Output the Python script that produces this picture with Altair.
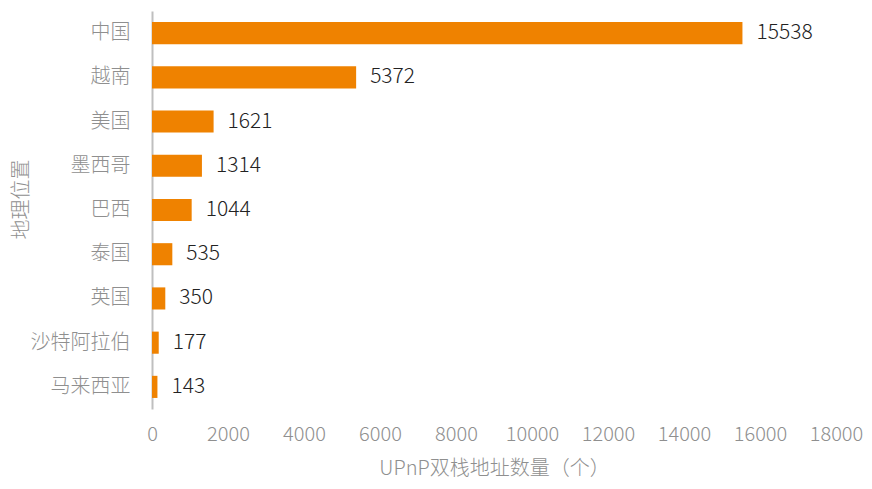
import altair as alt
import pandas as pd

countries = ["中国", "越南", "美国", "墨西哥", "巴西", "泰国", "英国", "沙特阿拉伯", "马来西亚"]
counts = [15538, 5372, 1621, 1314, 1044, 535, 350, 177, 143]
x_ticks = [0, 2000, 4000, 6000, 8000, 10000, 12000, 14000, 16000, 18000]

df = pd.DataFrame({"country": countries, "count": counts})

FONT = "Noto Sans CJK SC"
ORANGE = "#EF8200"
GRAY = "#8f8f8f"

x_enc = alt.X(
    "count:Q",
    scale=alt.Scale(domain=[0, 18000], nice=False),
    axis=alt.Axis(
        values=x_ticks,
        title="UPnP双栈地址数量（个）",
        domain=False,
        ticks=False,
        grid=False,
        labelFont=FONT,
        labelFontSize=20,
        labelFontWeight=300,
        labelColor=GRAY,
        labelPadding=15,
        labelFlush=False,
        labelOverlap=False,
        titleFont=FONT,
        titleFontSize=20,
        titleFontWeight=300,
        titleColor=GRAY,
        titlePadding=14,
        format="d",
    ),
)
y_enc = alt.Y(
    "country:N",
    sort=countries,
    scale=alt.Scale(paddingInner=0.5, paddingOuter=0.25),
    axis=alt.Axis(
        title="地理位置",
        domain=True,
        domainColor="#bfbfbf",
        domainWidth=2,
        ticks=False,
        grid=False,
        labelFont=FONT,
        labelFontSize=20,
        labelFontWeight=300,
        labelColor=GRAY,
        labelPadding=22,
        titleFont=FONT,
        titleFontSize=20,
        titleFontWeight=300,
        titleColor=GRAY,
        titleX=-131,
        titleY=188,
        titleAngle=270,
        titleAlign="center",
        titleBaseline="middle",
    ),
)

bars = alt.Chart(df).mark_bar(color=ORANGE).encode(x=x_enc, y=y_enc)
labels = alt.Chart(df).mark_text(
    align="left", baseline="middle", dx=14, font=FONT, fontSize=21, fontWeight=300, color="#222222"
).encode(x="count:Q", y=alt.Y("country:N", sort=countries), text="count:Q")

chart = (
    alt.layer(bars, labels)
    .properties(
        width=684,
        height=398,
        autosize=alt.AutoSizeParams(type="none"),
        padding={"left": 144, "top": 3, "right": 28, "bottom": 72},
        view=alt.ViewBackground(strokeOpacity=0, strokeWidth=0),
    )
    .configure_view(strokeWidth=0, strokeOpacity=0)
    .configure(background="white")
)

chart.save("out.html", embed_options={"renderer": "svg", "actions": False})
